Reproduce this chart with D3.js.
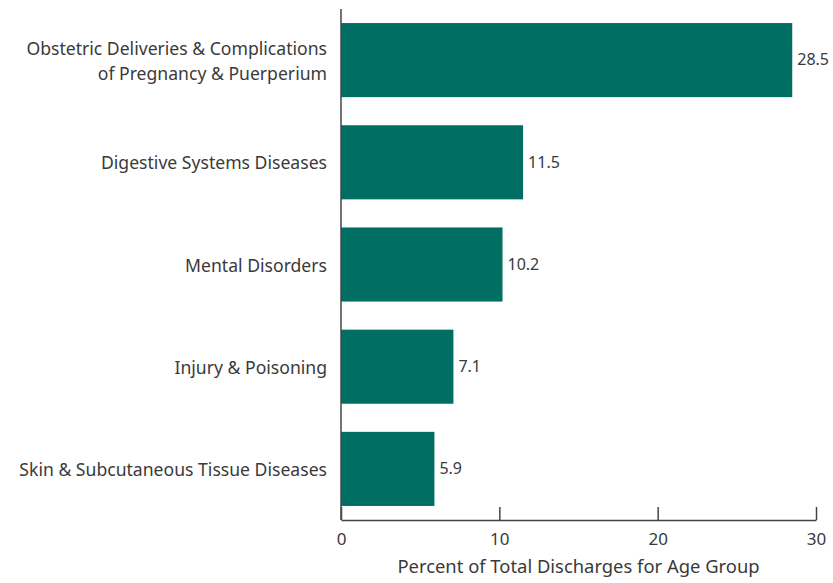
<!DOCTYPE html>
<html>
<head>
<meta charset="utf-8">
<script src="https://cdn.jsdelivr.net/npm/d3@7"></script>
<style>
  body { margin: 0; background: #fff; }
  text { font-family: "Noto Sans", sans-serif; fill: #3a3a3a; }
</style>
</head>
<body>
<svg id="chart" width="833" height="583"></svg>
<script>
const categories = [
  ['Obstetric Deliveries & Complications', 'of Pregnancy & Puerperium'],
  ['Digestive Systems Diseases'],
  ['Mental Disorders'],
  ['Injury & Poisoning'],
  ['Skin & Subcutaneous Tissue Diseases']
]
const values = [28.5, 11.5, 10.2, 7.1, 5.9]
const xTicks = [0, 10, 20, 30]
const xTitle = 'Percent of Total Discharges for Age Group'

const svg = d3.select('#chart')
const plotLeft = 341
const plotRight = 816
const plotTop = 9
const plotBottom = 520

const x = d3.scaleLinear().domain([0, 30]).range([plotLeft, plotRight])
const y = d3.scaleBand()
  .domain(d3.range(values.length))
  .range([plotTop, plotBottom])
  .paddingInner(0.275)
  .paddingOuter(0.1375)

// bars
svg.append('g').selectAll('rect')
  .data(values)
  .join('rect')
  .attr('x', x(0))
  .attr('y', (d, i) => y(i))
  .attr('width', d => x(d) - x(0))
  .attr('height', y.bandwidth())
  .attr('fill', '#006e63')

// value labels
svg.append('g').selectAll('text')
  .data(values)
  .join('text')
  .attr('x', d => x(d) + 5)
  .attr('y', (d, i) => y(i) + y.bandwidth() / 2 + 1)
  .attr('dominant-baseline', 'middle')
  .attr('font-size', '16px')
  .text(d => d.toFixed(1))

// category labels
const lab = svg.append('g').selectAll('text')
  .data(categories)
  .join('text')
  .attr('text-anchor', 'end')
  .attr('font-size', '17.6px')
  .attr('dominant-baseline', 'middle')
lab.each(function (lines, i) {
  const cy = y(i) + y.bandwidth() / 2 + 2
  const lh = 25
  lines.forEach((ln, k) => {
    d3.select(this).append('tspan')
      .attr('x', 327)
      .attr('y', cy + (k - (lines.length - 1) / 2) * lh)
      .text(ln)
  })
})

// x axis, ticks pointing up
const xAxis = svg.append('g')
  .attr('transform', `translate(0,${plotBottom})`)
  .call(d3.axisBottom(x).tickValues(xTicks).tickSize(-13).tickSizeOuter(0).tickPadding(0))
xAxis.select('.domain').attr('stroke', '#444').attr('stroke-width', 1.5)
xAxis.selectAll('.tick line').attr('stroke', '#444').attr('stroke-width', 1.5)
xAxis.selectAll('.tick text')
  .attr('y', 20)
  .attr('dy', null)
  .attr('dominant-baseline', 'middle')
  .attr('font-size', '17px')
  .attr('font-family', '"Noto Sans", sans-serif')
  .attr('fill', '#3a3a3a')

// y axis line
svg.append('line')
  .attr('x1', plotLeft).attr('x2', plotLeft)
  .attr('y1', plotTop).attr('y2', plotBottom)
  .attr('stroke', '#444')
  .attr('stroke-width', 1.5)

svg.append('text')
  .attr('x', 578.5)
  .attr('y', 568)
  .attr('text-anchor', 'middle')
  .attr('dominant-baseline', 'middle')
  .attr('font-size', '18.4px')
  .text(xTitle)
</script>
</body>
</html>
